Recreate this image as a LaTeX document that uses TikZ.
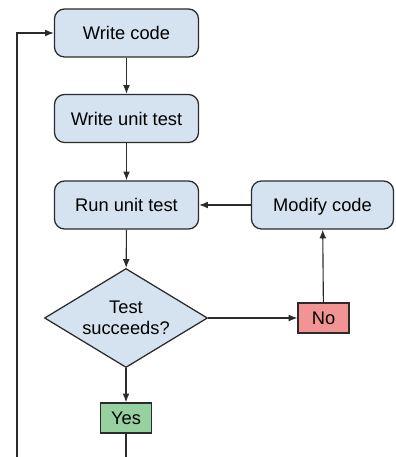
\documentclass[tikz,border=0pt]{standalone}
\usepackage{fontspec}
\setmainfont{Liberation Sans}
\usetikzlibrary{shapes.geometric,arrows.meta}
\definecolor{boxblue}{HTML}{D5E3F0}
\definecolor{nored}{HTML}{F29494}
\definecolor{yesgreen}{HTML}{96D2A0}
\definecolor{edgegray}{HTML}{2B2B2B}

\begin{document}
\begin{tikzpicture}[x=0.025cm, y=-0.025cm,
  font=\fontsize{13}{15}\selectfont,
  stepbox/.style={draw=edgegray, line width=0.9pt, fill=boxblue, rounded corners=0.25cm,
    minimum width=3.6cm, minimum height=1.2cm, inner sep=0pt, text height=2.1ex, text depth=0.3ex},
  decision/.style={draw=edgegray, line width=0.9pt, fill=boxblue, diamond, aspect=1.65,
    minimum width=4.075cm, minimum height=2.475cm, inner sep=0pt, align=center},
  answer/.style={draw=edgegray, line width=0.9pt, minimum width=1.27cm, minimum height=0.75cm, inner sep=0pt},
  flow/.style={draw=edgegray, line width=0.8pt, -{Latex[length=2.2mm,width=1.7mm]}}]
\useasboundingbox (0,0) rectangle (395,457);
%----------------- main column -----------------
\node[stepbox] (code) at (126.5,33) {Write code};
\node[stepbox] (unit) at (126.5,118.5) {Write unit test};
\node[stepbox] (run) at (126.5,205) {Run unit test};
\node[decision] (test) at (126,318) {Test\\succeeds?};
\node[answer, fill=yesgreen] (yes) at (126,418) {Yes};
%----------------- retry branch -----------------
\node[stepbox, minimum width=3.55cm] (modify) at (322.5,205) {Modify code};
\node[answer, fill=nored] (no) at (323.5,318) {No};
% free ends at the lower edge
\coordinate (yesend) at (126,457);
\coordinate (loopend) at (17,457);
% connectors
\draw[flow] (code) -- (unit);
\draw[flow] (unit) -- (run);
\draw[flow] (run) -- (test);
\draw[flow] (test) -- (no);
\draw[flow] (no) -- (modify);
\draw[flow] (modify) -- (run);
\draw[flow] (test) -- (yes);
\draw[edgegray, line width=0.8pt] (yes) -- (yesend);
\draw[flow] (loopend) |- (code.west);
\end{tikzpicture}
\end{document}
